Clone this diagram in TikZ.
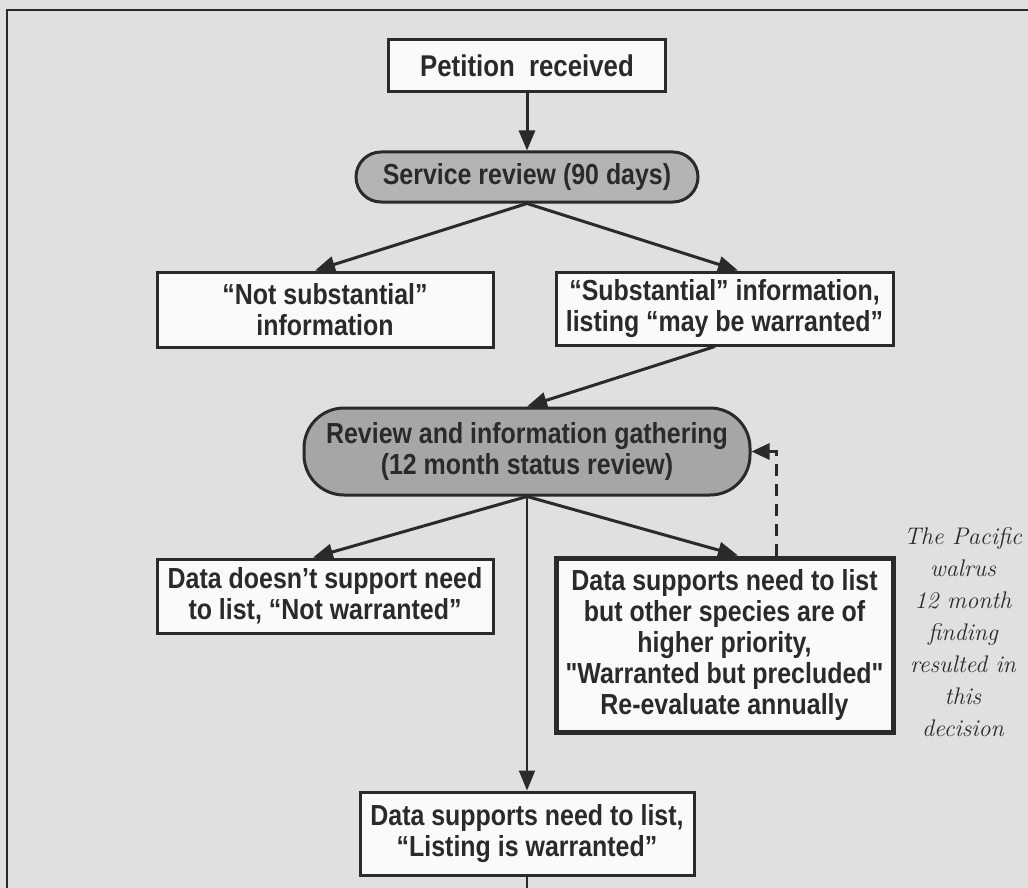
\documentclass[tikz,border=0pt]{standalone}
\usepackage{fontspec}
\usetikzlibrary{arrows.meta}
\newfontfamily\condf[FakeStretch=0.86]{Liberation Sans}
\definecolor{bgc}{HTML}{E0E0E0}
\definecolor{ink}{HTML}{2A2A2A}
\definecolor{pillc}{HTML}{B4B4B4}
\definecolor{pilld}{HTML}{A6A6A6}
\definecolor{boxc}{HTML}{FAFAFA}
\tikzset{
  txt/.style={font=\condf\bfseries\fontsize{14.5}{15.5}\selectfont, text=ink, align=center, inner sep=0pt},
  whitebox/.style={txt, draw=ink, line width=1.5pt, fill=boxc},
  pill/.style={txt, draw=ink, line width=1.5pt, fill=pillc},
  arr/.style={draw=ink, line width=1.5pt, -{Triangle[length=10pt,width=8pt]}},
  thinarr/.style={draw=ink, line width=1pt, -{Triangle[length=10pt,width=8pt]}},
  dasharr/.style={draw=ink, line width=1.5pt, dash pattern=on 6pt off 4pt, -{Triangle[length=9pt,width=8pt]}},
  note/.style={font=\itshape\fontsize{12}{16}\selectfont, text=ink, align=center, inner sep=0pt}
}
\begin{document}
\begin{tikzpicture}[x=0.5pt,y=-0.5pt]
\useasboundingbox (0,0) rectangle (1028,888);
\fill[bgc] (0,0) rectangle (1028,888);
\draw[ink, line width=0.8pt] (7,888) -- (7,10) -- (1028,10);

\node[whitebox, font=\condf\bfseries\fontsize{15}{16}\selectfont, minimum width=138.5pt, minimum height=26pt] (pet) at (527,66) {Petition\ \ received};
\node[pill, rounded corners=12.5pt, minimum width=171pt, minimum height=25pt] (svc) at (527,177) {Service review (90 days)};
\node[whitebox, minimum width=168pt, minimum height=37.5pt] (nsub) at (325,309.5) {“Not substantial”\\information};
\node[whitebox, minimum width=168.5pt, minimum height=36.5pt] (sub) at (724.5,308.5) {“Substantial” information,\\listing “may be warranted”};
\node[pill, fill=pilld, rounded corners=20pt, minimum width=223pt, minimum height=43.5pt] (rev) at (527,451.5) {Review and information gathering\\(12 month status review)};
\node[whitebox, minimum width=168pt, minimum height=37pt] (dns) at (325,596) {Data doesn’t support need\\to list, “Not warranted”};
\node[whitebox, line width=2.5pt, minimum width=168.5pt, minimum height=87pt] (dsup) at (724.5,645) {Data supports need to list\\but other species are of\\higher priority,\\"Warranted but precluded"\\Re-evaluate annually};
\node[whitebox, minimum width=167pt, minimum height=41.5pt] (lst) at (527,833.5) {Data supports need to list,\\“Listing is warranted”};
\node[note] (note) at (963,632) {The Pacific\\walrus\\12 month\\finding\\resulted in\\this\\decision};

\coordinate (bot) at (527,888);
\coordinate (dtop) at ([xshift=25.75pt]dsup.north);

\draw[arr] (pet.south) -- (svc.north);
\draw[arr] (svc.south) -- ([xshift=-5pt]nsub.north);
\draw[arr] (svc.south) -- ([xshift=6.75pt]sub.north);
\draw[arr] ([xshift=-4.75pt]sub.south) -- (rev.north);
\draw[arr] (rev.south) -- ([xshift=-6pt]dns.north);
\draw[arr] (rev.south) -- ([xshift=6.75pt]dsup.north);
\draw[thinarr] (rev.south) -- (lst.north);
\draw[ink, line width=1pt] (lst.south) -- (bot);
\draw[dasharr] (dtop) |- (rev.east);
\end{tikzpicture}
\end{document}
